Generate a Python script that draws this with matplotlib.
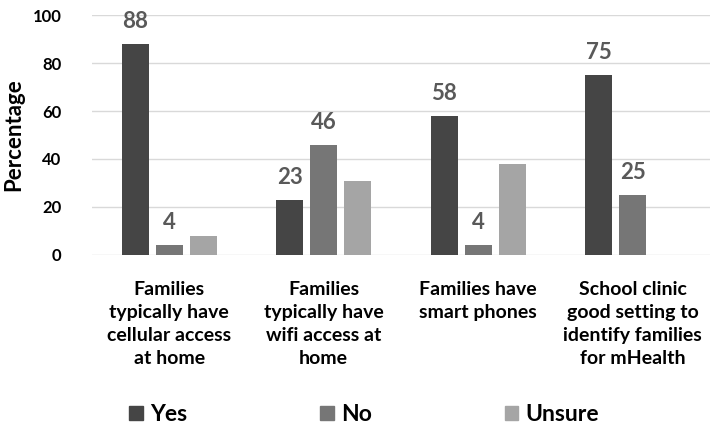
import numpy as np
import matplotlib.pyplot as plt
from matplotlib.patches import Patch

# Data
categories = ["Families\ntypically have\ncellular access\nat home",
              "Families\ntypically have\nwifi access at\nhome",
              "Families have\nsmart phones",
              "School clinic\ngood setting to\nidentify families\nfor mHealth"]
yes = [88, 23, 58, 75]
no = [4, 46, 4, 25]
unsure = [8, 31, 38, 0]
series_names = ["Yes", "No", "Unsure"]
colors = ["#454545", "#767676", "#a5a5a5"]

plt.rcParams['font.family'] = ['Lato', 'DejaVu Sans']

fig = plt.figure(figsize=(7.14, 4.32), dpi=100)
ax = fig.add_axes([0.129, 0.41, 0.865, 0.555])

x = np.arange(len(categories))
w = 0.175
step = 0.22
for i, (vals, c) in enumerate(zip([yes, no, unsure], colors)):
    bars = ax.bar(x + (i - 1) * step, vals, w, color=c, zorder=3)
    if i < 2:
        for b, v in zip(bars, vals):
            ax.text(b.get_x() + b.get_width() / 2, v + 5, str(v),
                    ha='center', va='bottom', fontsize=16, fontweight='bold',
                    color='#595959')

ax.set_ylim(0, 100)
ax.set_xlim(-0.5, 3.5)
ax.set_yticks(range(0, 101, 20))
ax.yaxis.grid(True, color='#d9d9d9', linewidth=1, zorder=0)
for s in ax.spines.values():
    s.set_visible(False)
ax.tick_params(length=0)
ax.set_xticks(x)
ax.set_xticklabels(categories, fontsize=14, fontweight='bold', linespacing=1.42)
ax.tick_params(axis='x', pad=19)
for lab in ax.get_yticklabels():
    lab.set_fontweight('bold')
    lab.set_fontsize(12)
ax.tick_params(axis='y', pad=22)
ax.set_ylabel("Percentage", fontsize=16, fontweight='bold', labelpad=6)

handles = [Patch(color=c, label=n) for n, c in zip(series_names, colors)]
fig.legend(handles=handles, loc='center', bbox_to_anchor=(0.51, 0.04), ncol=3,
           frameon=False, prop={'weight': 'bold', 'size': 16.5},
           handlelength=0.6, handleheight=0.6, handletextpad=0.3,
           columnspacing=5.8)

fig.savefig("out.png", dpi=100)
